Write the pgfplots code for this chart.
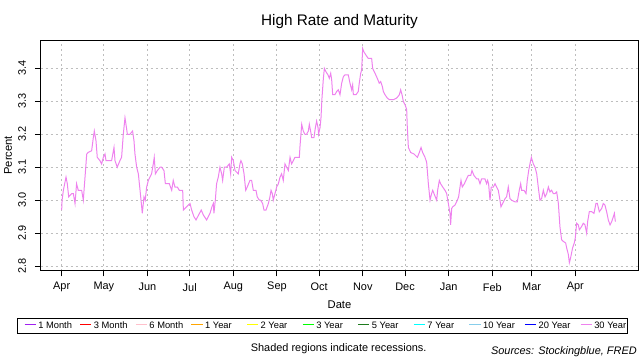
\documentclass[border=0pt]{standalone}
\usepackage{fontspec}
\setmainfont{Liberation Sans}
\usepackage{pgfplots}
\pgfplotsset{compat=1.18}
\definecolor{cOneM}{HTML}{A020F0}
\definecolor{cThreeM}{HTML}{FF0000}
\definecolor{cSixM}{HTML}{FFC0CB}
\definecolor{cOneY}{HTML}{FFA500}
\definecolor{cTwoY}{HTML}{FFFF00}
\definecolor{cThreeY}{HTML}{00FF00}
\definecolor{cFiveY}{HTML}{1E7B1E}
\definecolor{cSevenY}{HTML}{00FFFF}
\definecolor{cTenY}{HTML}{87CEEB}
\definecolor{cTwentyY}{HTML}{0000FF}
\definecolor{cThirtyY}{HTML}{EE82EE}
\definecolor{gridc}{RGB}{190,190,190}
\newcommand{\lt}[3][26pt]{\textcolor{#2}{\rule[2.3pt]{8.5pt}{0.75pt}}\hspace{1.8pt}\makebox[#1][l]{#3}}
\begin{document}
\begin{tikzpicture}[x=0.75pt,y=0.75pt]
\useasboundingbox (0,0) rectangle (640,360);
\begin{axis}[
  at={(30.525pt,66.975pt)}, anchor=south west,
  scale only axis, width=448.2pt, height=173.0pt,
  xmin=-14.9, xmax=409.8, ymin=2.786, ymax=3.486,
  axis line style={black, line width=0.8pt},
  xtick={0,30,61,91,122,153,183,214,244,275,306,334,365},
  xticklabels={Apr,May,Jun,Jul,Aug,Sep,Oct,Nov,Dec,Jan,Feb,Mar,Apr},
  ytick={2.8,2.9,3.0,3.1,3.2,3.3,3.4},
  yticklabels={2.8,2.9,3.0,3.1,3.2,3.3,3.4},
  tick pos=left, tick align=outside, major tick length=4.3pt,
  tick style={black, line width=0.75pt},
  xticklabel style={anchor=center, yshift=-8pt, font=\fontsize{8.2}{9}\selectfont},
  yticklabel style={anchor=center, xshift=-9.6pt, rotate=90, font=\fontsize{8.2}{9}\selectfont},
  grid=major,
  major grid style={gridc, line width=0.75pt, dash pattern=on 1.5pt off 2.25pt},
  legend columns=11,
  legend image code/.code={},
  legend style={at={(0.472,-0.239)}, anchor=center, draw=black, line width=0.8pt,
    font=\fontsize{7}{8}\selectfont, inner xsep=4pt, inner ysep=1.5pt,
    nodes={inner sep=1pt},
    /tikz/every odd column/.append style={column sep=0pt},
    /tikz/every even column/.append style={column sep=3.4pt}},
]
\addlegendimage{cOneM}\addlegendentry{\lt{cOneM}{1 Month}}
\addlegendimage{cThreeM}\addlegendentry{\lt{cThreeM}{3 Month}}
\addlegendimage{cSixM}\addlegendentry{\lt{cSixM}{6 Month}}
\addlegendimage{cOneY}\addlegendentry{\lt{cOneY}{1 Year}}
\addlegendimage{cTwoY}\addlegendentry{\lt{cTwoY}{2 Year}}
\addlegendimage{cThreeY}\addlegendentry{\lt{cThreeY}{3 Year}}
\addlegendimage{cFiveY}\addlegendentry{\lt{cFiveY}{5 Year}}
\addlegendimage{cSevenY}\addlegendentry{\lt{cSevenY}{7 Year}}
\addlegendimage{cTenY}\addlegendentry{\lt{cTenY}{10 Year}}
\addlegendimage{cTwentyY}\addlegendentry{\lt{cTwentyY}{20 Year}}
\addplot[cThirtyY, line width=0.75pt, mark=none] table {
x y
0.0 2.97
0.3 3.00
1.2 3.03
3.1 3.07
4.0 3.05
5.0 3.01
7.1 3.02
8.3 3.02
9.5 2.99
10.6 3.05
11.8 3.03
14.2 3.03
15.4 3.00
15.9 3.03
16.6 3.07
17.8 3.14
18.9 3.145
21.3 3.15
22.5 3.19
23.2 3.21
24.4 3.18
25.3 3.13
27.2 3.12
28.4 3.11
29.6 3.13
30.8 3.14
31.5 3.12
34.3 3.12
35.5 3.12
37.2 3.16
37.9 3.12
39.5 3.10
41.4 3.12
42.6 3.13
43.8 3.20
45.0 3.25
45.7 3.23
46.7 3.20
48.5 3.20
50.4 3.21
51.4 3.18
52.1 3.14
53.3 3.10
54.5 3.08
55.7 3.03
56.4 3.00
57.3 2.96
58.5 3.01
59.4 3.00
60.4 3.04
61.6 3.06
63.9 3.08
65.1 3.11
65.8 3.13
66.6 3.08
68.0 3.09
69.9 3.10
71.1 3.10
72.7 3.09
73.7 3.05
76.5 3.05
78.2 3.03
79.3 3.06
80.5 3.04
82.2 3.04
83.6 3.03
85.3 3.03
86.0 3.03
86.5 2.97
88.8 2.98
91.2 2.99
92.4 2.97
94.0 2.95
95.5 2.94
97.3 2.955
99.2 2.97
100.7 2.955
103.0 2.94
105.4 2.96
106.8 2.98
107.8 2.99
108.2 2.96
109.2 3.00
110.1 3.05
111.3 3.07
112.5 3.10
113.7 3.08
114.4 3.06
115.6 3.10
117.2 3.10
119.1 3.11
120.1 3.08
120.8 3.13
122.0 3.12
123.2 3.09
125.5 3.08
126.7 3.11
127.4 3.12
128.4 3.11
129.6 3.08
130.8 3.03
131.9 3.04
133.8 3.06
135.0 3.06
136.2 3.03
138.1 3.03
139.0 3.01
140.5 3.00
141.4 3.00
142.8 2.99
143.8 2.97
145.2 2.97
146.9 2.99
148.0 3.01
148.8 3.03
149.7 3.02
150.4 3.00
151.6 3.02
152.8 3.04
154.0 3.05
155.2 3.07
156.3 3.08
157.5 3.06
158.7 3.11
159.9 3.10
161.1 3.09
162.3 3.13
163.4 3.11
164.6 3.12
165.8 3.13
168.9 3.13
169.4 3.165
170.6 3.23
171.7 3.21
172.9 3.20
174.1 3.20
175.3 3.21
176.0 3.23
176.9 3.21
177.7 3.19
179.3 3.19
180.3 3.22
181.2 3.24
182.2 3.22
182.6 3.20
183.6 3.22
184.3 3.25
185.0 3.31
186.0 3.37
186.7 3.40
187.8 3.39
189.3 3.38
190.2 3.37
191.2 3.385
191.9 3.365
192.6 3.32
194.2 3.32
195.4 3.33
196.6 3.335
197.8 3.32
199.0 3.355
200.2 3.375
201.3 3.38
203.7 3.38
204.9 3.355
206.1 3.335
206.8 3.35
207.3 3.32
209.2 3.32
210.8 3.33
211.5 3.355
212.5 3.385
213.2 3.395
213.9 3.46
214.8 3.45
216.3 3.44
217.9 3.43
220.3 3.43
221.0 3.40
222.7 3.385
224.3 3.37
225.7 3.355
226.7 3.36
227.9 3.345
228.6 3.33
229.8 3.32
231.4 3.31
232.9 3.305
235.7 3.305
238.1 3.31
240.0 3.32
240.9 3.335
241.9 3.32
242.8 3.30
244.0 3.29
245.2 3.275
245.6 3.225
246.4 3.16
248.0 3.145
250.4 3.14
252.8 3.13
254.2 3.145
255.4 3.16
256.5 3.145
258.2 3.13
259.4 3.115
260.6 3.05
261.8 3.00
262.9 3.02
263.7 3.03
264.6 3.02
266.5 3.00
267.2 3.03
268.4 3.06
269.3 3.05
270.8 3.04
272.4 3.03
273.6 3.02
274.8 2.99
276.0 2.96
276.4 2.925
277.2 2.975
277.9 2.98
279.5 2.985
281.2 3.00
282.1 3.01
283.1 3.04
283.8 3.06
284.7 3.04
286.2 3.05
287.8 3.065
289.0 3.075
290.7 3.075
291.6 3.09
293.0 3.075
294.9 3.065
296.1 3.065
297.3 3.05
298.5 3.065
300.8 3.065
302.0 3.05
302.7 3.06
303.4 3.05
304.4 3.00
305.3 3.04
306.8 3.04
308.0 3.05
309.1 3.04
310.3 3.03
311.5 3.00
312.2 2.98
313.4 2.99
315.1 3.005
316.2 3.01
317.4 3.04
318.6 3.005
319.8 3.00
322.2 2.995
323.8 2.995
325.2 3.03
326.2 3.05
326.9 3.03
328.6 3.03
330.0 3.02
330.9 3.06
331.9 3.09
332.8 3.11
333.8 3.13
335.2 3.11
336.4 3.10
337.6 3.08
338.7 3.04
339.9 3.00
341.1 3.005
342.3 3.03
343.5 3.01
344.7 3.02
345.9 3.04
347.0 3.025
348.2 3.03
349.4 3.02
350.6 3.02
351.8 3.025
353.0 2.99
354.1 2.92
355.3 2.88
356.5 2.875
358.2 2.87
358.9 2.855
360.1 2.835
360.8 2.81
361.7 2.825
363.1 2.855
364.3 2.87
365.0 2.885
366.0 2.93
367.2 2.925
367.9 2.91
369.5 2.92
370.7 2.93
371.9 2.925
373.1 2.90
373.8 2.935
375.0 2.965
376.7 2.965
378.3 2.96
379.7 2.99
380.7 2.99
382.1 2.965
383.8 2.975
384.9 2.99
386.1 2.985
387.3 2.965
388.5 2.94
389.7 2.925
390.9 2.935
392.1 2.95
392.8 2.96
393.5 2.935
};
\addlegendentry{\lt[20pt]{cThirtyY}{30 Year}}
\end{axis}
\node[font=\fontsize{11.5}{13}\selectfont] at (339.5,338.5) {High Rate and Maturity};
\node[font=\fontsize{8.4}{10}\selectfont] at (339.5,55) {Date};
\node[font=\fontsize{8.4}{10}\selectfont, rotate=90] at (8,204.6) {Percent};
\node[font=\fontsize{8.2}{10}\selectfont] at (338.7,11) {Shaded regions indicate recessions.};
\node[font=\fontsize{8.2}{10}\selectfont\itshape, anchor=east, inner sep=0pt] at (637,8) {Sources: Stockingblue, FRED};
\end{tikzpicture}
\end{document}
